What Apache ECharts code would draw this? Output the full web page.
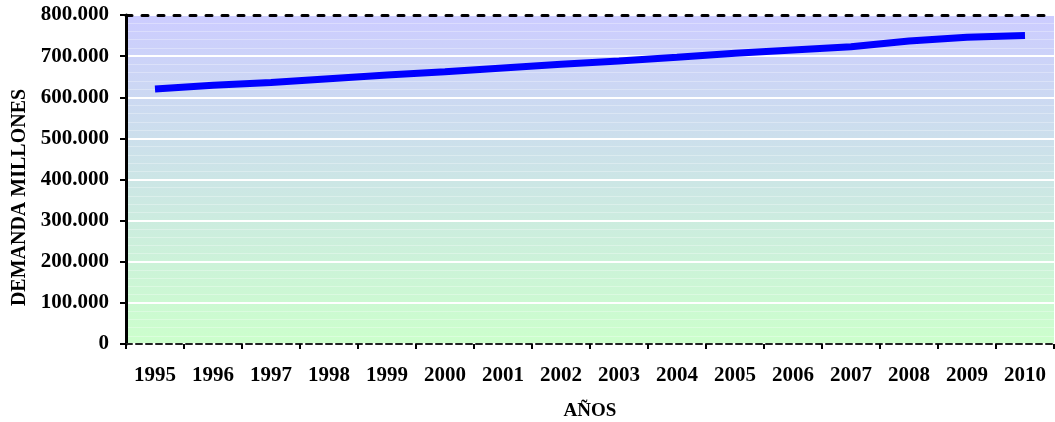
<!DOCTYPE html>
<html>
<head>
<meta charset="utf-8">
<style>
  html, body { margin: 0; padding: 0; background: #ffffff; }
  #chart { width: 1055px; height: 422px; }
</style>
<script src="https://cdn.jsdelivr.net/npm/echarts@6/dist/echarts.min.js"></script>
</head>
<body>
<div id="chart"></div>
<script>
// Proyección de la demanda anual (millones)
const years = ['1995', '1996', '1997', '1998', '1999', '2000', '2001', '2002',
               '2003', '2004', '2005', '2006', '2007', '2008', '2009', '2010'];
const demanda = [620000, 629000, 636000, 645000, 654000, 662000, 671000, 680000,
                 688000, 697000, 707000, 715000, 723000, 737000, 746000, 750000];
const yMin = 0;
const yMax = 800000;
const yStep = 100000;

const serif = '"Liberation Serif", "Times New Roman", serif';

// Separador de miles con punto: 600000 -> "600.000"
function miles(v) {
  return String(Math.round(v)).replace(/\B(?=(\d{3})+(?!\d))/g, '.');
}

const chart = echarts.init(document.getElementById('chart'), null, { renderer: 'canvas' });

chart.setOption({
  animation: false,
  grid: {
    left: 126, right: 1, top: 15, bottom: 78,
    outerBoundsMode: 'none',
    containLabel: false,
    show: true,
    borderWidth: 0,
    backgroundColor: new echarts.graphic.LinearGradient(0, 0, 0, 1, [
      { offset: 0, color: '#ccccff' },
      { offset: 1, color: '#ccffcc' }
    ])
  },
  xAxis: [
    {
      type: 'category',
      data: years,
      boundaryGap: true,
      name: 'AÑOS',
      nameLocation: 'middle',
      nameGap: 58,
      nameTextStyle: { fontFamily: serif, fontWeight: 'bold', fontSize: 19, color: '#000' },
      axisLine: { lineStyle: { color: '#222', width: 2, type: [6, 4] } },
      axisTick: { show: true, length: 5, lineStyle: { color: '#000', width: 2 } },
      axisLabel: { margin: 21, fontFamily: serif, fontWeight: 'bold', fontSize: 21, color: '#000' },
      splitLine: { show: false }
    },
    {
      // borde superior punteado del área de trazado
      type: 'category',
      data: years,
      position: 'top',
      axisLine: { show: true, lineStyle: { color: '#000', width: 3, type: [6, 10] } },
      axisTick: { show: false },
      axisLabel: { show: false },
      splitLine: { show: false }
    }
  ],
  yAxis: {
    type: 'value',
    min: yMin,
    max: yMax,
    interval: yStep,
    name: 'DEMANDA MILLONES',
    nameLocation: 'middle',
    nameGap: 96,
    nameRotate: 90,
    nameTextStyle: {
      fontFamily: serif, fontWeight: 'bold', fontSize: 20, color: '#000',
      padding: [0, 36, 0, 0]
    },
    axisLine: { show: true, lineStyle: { color: '#000', width: 3 } },
    axisTick: { show: true, length: 6, lineStyle: { color: '#000', width: 2 } },
    axisLabel: {
      margin: 17,
      fontFamily: serif, fontWeight: 'bold', fontSize: 21, color: '#000',
      formatter: miles
    },
    splitLine: { show: true, lineStyle: { color: '#ffffff', width: 2 } },
    minorTick: { show: false, splitNumber: 5 },
    minorSplitLine: { show: true, lineStyle: { color: 'rgba(255,255,255,0.3)', width: 1 } }
  },
  series: [
    {
      type: 'line',
      data: demanda,
      symbol: 'none',
      lineStyle: { color: '#0000ff', width: 7, cap: 'butt' },
      z: 5
    }
  ]
});
</script>
</body>
</html>
